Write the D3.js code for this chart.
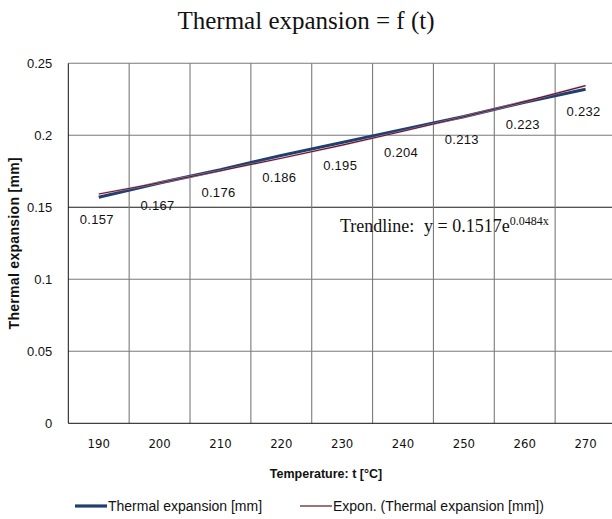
<!DOCTYPE html>
<html>
<head>
<meta charset="utf-8">
<script src="https://cdn.jsdelivr.net/npm/d3@7"></script>
<style>
  body { margin: 0; background: #fff; }
  #chart text { fill: #111; }
</style>
</head>
<body>
<div id="chart"></div>
<script>
// values
const temperatures = ["190", "200", "210", "220", "230", "240", "250", "260", "270"];
const expansion = [0.157, 0.167, 0.176, 0.186, 0.195, 0.204, 0.213, 0.223, 0.232];
const trendValues = [0.1592, 0.1671, 0.1754, 0.1841, 0.1932, 0.2028, 0.2129, 0.2234, 0.2345];
const yTicks = [0, 0.05, 0.1, 0.15, 0.2, 0.25];
const yTickLabels = ["0", "0.05", "0.1", "0.15", "0.2", "0.25"];

const width = 612, height = 519;
const plot = { left: 68.3, right: 616, top: 63.3, bottom: 423.3 };

const svg = d3.select("#chart").append("svg")
    .attr("width", width)
    .attr("height", height)
    .style("background", "#fff");

const x = d3.scaleBand()
    .domain(temperatures)
    .range([plot.left, plot.right])
    .padding(0);

const y = d3.scaleLinear()
    .domain([0, 0.25])
    .range([plot.bottom, plot.top]);

// title
svg.append("text")
    .attr("x", 306)
    .attr("y", 29)
    .attr("text-anchor", "middle")
    .style("font-family", "'Liberation Serif', 'Times New Roman', serif")
    .style("font-size", "25px")
    .text("Thermal expansion = f (t)");

// horizontal grid
svg.append("g")
    .selectAll("line")
    .data(yTicks.filter(d => d > 0))
    .join("line")
    .attr("x1", plot.left)
    .attr("x2", plot.right)
    .attr("y1", d => y(d))
    .attr("y2", d => y(d))
    .attr("stroke", d => d === 0.15 ? "#1a1a1a" : "#7a7a7a")
    .attr("stroke-width", 1.1);

// vertical grid, on category boundaries
svg.append("g")
    .selectAll("line")
    .data(temperatures.slice(0, -1))
    .join("line")
    .attr("x1", d => x(d) + x.bandwidth())
    .attr("x2", d => x(d) + x.bandwidth())
    .attr("y1", plot.top)
    .attr("y2", plot.bottom)
    .attr("stroke", "#7a7a7a")
    .attr("stroke-width", 1.1);

// axis lines
svg.append("line")
    .attr("x1", plot.left).attr("x2", plot.left)
    .attr("y1", plot.top).attr("y2", plot.bottom)
    .attr("stroke", "#111");
svg.append("line")
    .attr("x1", plot.left).attr("x2", plot.right)
    .attr("y1", plot.bottom).attr("y2", plot.bottom)
    .attr("stroke", "#111");

// y axis
const yAxis = svg.append("g")
    .attr("transform", `translate(${plot.left},0)`)
    .call(d3.axisLeft(y)
        .tickValues(yTicks)
        .tickSize(0)
        .tickPadding(16)
        .tickFormat((d, i) => yTickLabels[i]));
yAxis.select(".domain").remove();
yAxis.selectAll("text")
    .style("font-family", "'Liberation Sans', Arial, sans-serif")
    .style("font-size", "13px")
    .attr("fill", "#111");

// x axis
const xAxis = svg.append("g")
    .attr("transform", `translate(0,${plot.bottom})`)
    .call(d3.axisBottom(x)
        .tickSize(0)
        .tickPadding(15));
xAxis.select(".domain").remove();
xAxis.selectAll("text")
    .style("font-family", "'Liberation Sans Narrow', 'DejaVu Sans Condensed', 'Liberation Sans', sans-serif")
    .style("font-size", "13px")
    .attr("fill", "#111");

// axis titles
svg.append("text")
    .attr("transform", `translate(19,${(plot.top + plot.bottom) / 2}) rotate(-90)`)
    .attr("text-anchor", "middle")
    .style("font-family", "'Liberation Sans', Arial, sans-serif")
    .style("font-weight", "bold")
    .style("font-size", "14px")
    .style("letter-spacing", "0.3px")
    .text("Thermal expansion [mm]");

svg.append("text")
    .attr("x", 326)
    .attr("y", 478)
    .attr("text-anchor", "middle")
    .style("font-family", "'Liberation Sans', Arial, sans-serif")
    .style("font-weight", "bold")
    .style("font-size", "12.5px")
    .text("Temperature: t [°C]");

const cx = d => x(d) + x.bandwidth() / 2;

// series line
const line = d3.line()
    .x((d, i) => cx(temperatures[i]))
    .y(d => y(d));

svg.append("path")
    .datum(expansion)
    .attr("d", line)
    .attr("fill", "none")
    .attr("stroke", "#1f3f6e")
    .attr("stroke-width", 3.2);

// exponential trendline
const trendLine = d3.line()
    .x((d, i) => cx(temperatures[i]))
    .y(d => y(d))
    .curve(d3.curveMonotoneX);

svg.append("path")
    .datum(trendValues)
    .attr("d", trendLine)
    .attr("fill", "none")
    .attr("stroke", "#e7a0b4")
    .attr("stroke-width", 2.2)
    .attr("opacity", 0.6);
svg.append("path")
    .datum(trendValues)
    .attr("d", trendLine)
    .attr("fill", "none")
    .attr("stroke", "#5a1a2e")
    .attr("stroke-width", 1.1);

// data labels, below each point
svg.append("g")
    .selectAll("text")
    .data(expansion)
    .join("text")
    .attr("x", (d, i) => cx(temperatures[i]) - 2)
    .attr("y", d => y(d) + 27)
    .attr("text-anchor", "middle")
    .style("font-family", "'Liberation Sans', Arial, sans-serif")
    .style("font-size", "13px")
    .style("letter-spacing", "0.3px")
    .text(d => d3.format(".3f")(d));

// trendline equation
const eq = svg.append("text")
    .attr("x", 340)
    .attr("y", 232)
    .style("font-family", "'Liberation Serif', 'Times New Roman', serif")
    .style("font-size", "18px");
eq.append("tspan").text("Trendline:");
eq.append("tspan").attr("x", 424).text("y = 0.1517e");
eq.append("tspan")
    .attr("dy", -7)
    .style("font-size", "12px")
    .text("0.0484x");

// legend
const legend = [
    { label: "Thermal expansion [mm]", x: 75, color: "#1f3f6e", w: 3.2 },
    { label: "Expon. (Thermal expansion [mm])", x: 300, color: "#6e3a3a", w: 1.4 }
];
const lg = svg.append("g")
    .selectAll("g")
    .data(legend)
    .join("g")
    .attr("transform", d => `translate(${d.x},506)`);
lg.append("line")
    .attr("x1", 0).attr("x2", 32)
    .attr("y1", 0).attr("y2", 0)
    .attr("stroke", d => d.color)
    .attr("stroke-width", d => d.w);
lg.append("text")
    .attr("x", 33)
    .attr("y", 5)
    .style("font-family", "'Liberation Sans', Arial, sans-serif")
    .style("font-size", "14px")
    .text(d => d.label);
</script>
</body>
</html>
